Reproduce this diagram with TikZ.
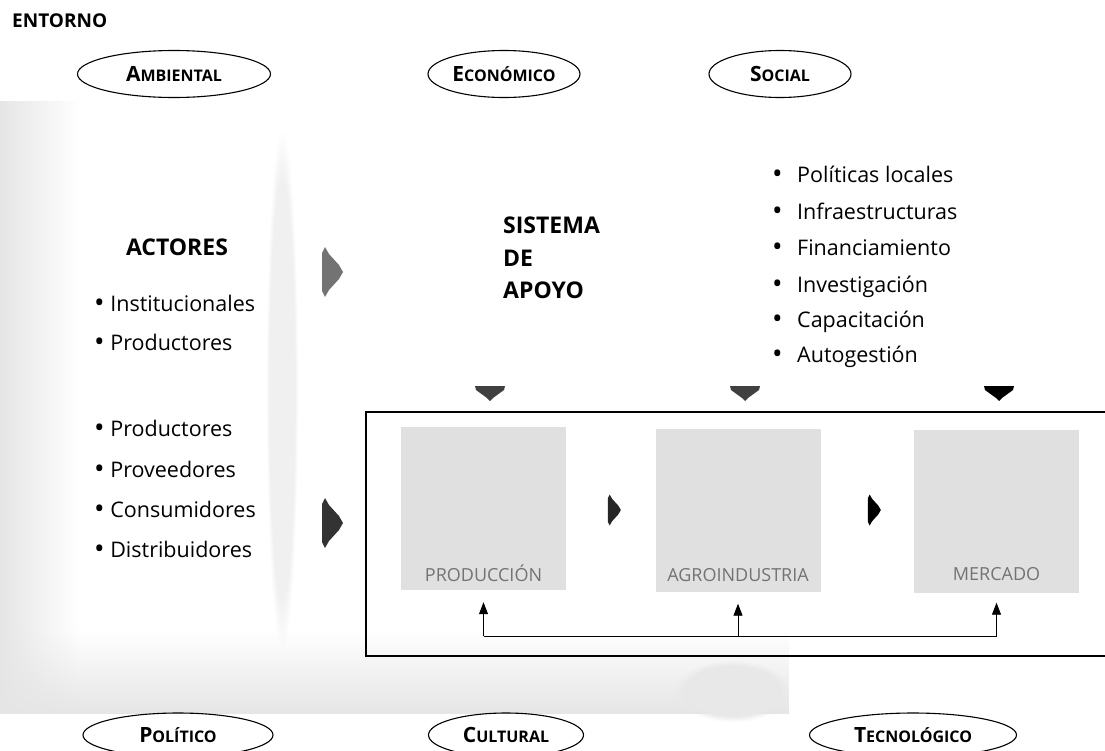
\documentclass[tikz,border=0pt]{standalone}
\usepackage{fontspec}
\setmainfont{Open Sans}
\usetikzlibrary{shapes.geometric,arrows.meta,calc,fadings}

% two-size capitals for the environment labels
\newcommand\envlabel[2]{{\fontsize{21}{21}\selectfont #1}{\fontsize{16}{16}\selectfont #2}}
% larger list bullet
\newcommand\bigdot{\raisebox{-1.5pt}{\fontsize{28}{28}\selectfont\textbullet}}

\tikzset{
  env/.style={draw, ellipse, line width=1.1pt, minimum width=#1, minimum height=47pt,
    inner sep=0pt, font=\bfseries},
  heading/.style={font=\bfseries\fontsize{23}{23}\selectfont, inner sep=0pt},
  item/.style={anchor=base west, inner sep=0pt, font=\fontsize{21.5}{21.5}\selectfont},
  stage/.style={fill=black!12, minimum width=165pt, minimum height=163pt, inner sep=0pt},
  stagelabel/.style={text=black!55, font=\fontsize{18}{18}\selectfont, inner sep=0pt},
  feedback/.style={line width=0.9pt},
  rarrow/.pic={\fill[#1] (-10,-19) -- (-7,-25) -- (-3,-18) -- (7,-7) -- (11,0) -- (7,7) -- (-3,18) -- (-7,25) -- (-10,19) -- cycle;},
  darrow/.pic={\fill[#1] (-15,-7) -- (15,-7) -- (14,-3) -- (3,5) -- (0,8) -- (-3,5) -- (-14,-3) -- cycle;},
}

\begin{document}
\begin{tikzpicture}[x=1pt, y=-1pt]
\useasboundingbox (0,0) rectangle (1105,750);

% faint wash over the left column and lower band
\fill[black!10, path fading=east] (0,100) rectangle (80,712);
\fill[black!10, path fading=north] (0,630) rectangle (790,714);
\fill[black!6, path fading=circle with fuzzy edge 20 percent] (266,130) rectangle (298,650);
\fill[black!9, path fading=circle with fuzzy edge 20 percent] (675,660) rectangle (790,722);

% title
\node[anchor=west, inner sep=0pt, font=\bfseries\fontsize{19}{19}\selectfont] (entorno) at (12,21) {ENTORNO};

% environment dimensions
\node[env=193pt] (amb) at (174,74) {\envlabel{A}{MBIENTAL}};
\node[env=152pt] (eco) at (504,74) {\envlabel{E}{CONÓMICO}};
\node[env=142pt] (soc) at (780,74) {\envlabel{S}{OCIAL}};
\node[env=190pt, minimum height=44pt] (pol) at (178,735) {\envlabel{P}{OLÍTICO}};
\node[env=155pt, minimum height=44pt] (cul) at (506,735) {\envlabel{C}{ULTURAL}};
\node[env=207pt, minimum height=44pt] (tec) at (913,735) {\envlabel{T}{ECNOLÓGICO}};

% actors
\node[heading] (actores) at (177,247) {ACTORES};
\node[item] (a1) at (94,311) {\bigdot\ Institucionales};
\node[item] (a2) at (94,350) {\bigdot\ Productores};
\node[item] (b1) at (94,436) {\bigdot\ Productores};
\node[item] (b2) at (94,477) {\bigdot\ Proveedores};
\node[item] (b3) at (94,517) {\bigdot\ Consumidores};
\node[item] (b4) at (94,557) {\bigdot\ Distribuidores};

% support system
\node[heading, anchor=base west] (sis1) at (503,233) {SISTEMA};
\node[heading, anchor=base west] (sis2) at (503,266) {DE};
\node[heading, anchor=base west] (sis3) at (503,298) {APOYO};

\node[item] (s1) at (772,182) {\makebox[25pt][l]{\bigdot}Políticas locales};
\node[item] (s2) at (772,219) {\makebox[25pt][l]{\bigdot}Infraestructuras};
\node[item] (s3) at (772,255) {\makebox[25pt][l]{\bigdot}Financiamiento};
\node[item] (s4) at (772,292) {\makebox[25pt][l]{\bigdot}Investigación};
\node[item] (s5) at (772,327) {\makebox[25pt][l]{\bigdot}Capacitación};
\node[item] (s6) at (772,362) {\makebox[25pt][l]{\bigdot}Autogestión};

% chain frame
\draw[line width=1.2pt] (1105,412) -- (366,412) -- (366,656) -- (1105,656);

% chain stages
\node[stage] (prod) at (483.5,508.5) {};
\node[stage] (agro) at (738,510) {};
\node[stage] (merc) at (996.5,511) {};
\node[stagelabel] (prodlbl) at ([yshift=17pt]prod.south) {PRODUCCIÓN};
\node[stagelabel] (agrolbl) at ([yshift=17pt]agro.south) {AGROINDUSTRIA};
\node[stagelabel] (merclbl) at ([yshift=19pt]merc.south) {MERCADO};

% block arrows
\pic at (332,272) {rarrow=black!55};
\pic at (332,523) {rarrow=black!80};
\pic[scale=0.62] at (614,510) {rarrow=black!85};
\pic[scale=0.62] at (874,510) {rarrow=black};
\pic at (490,393) {darrow=black!75};
\pic at (745,393) {darrow=black!75};
\pic at (999,393) {darrow=black};

% feedback loop
\coordinate (fb) at (0,636);
\draw[feedback] (prod.south |- fb) -- (merc.south |- fb);
\draw[feedback, -{Triangle[width=9pt,length=12pt]}] (prod.south |- fb) -- ([yshift=-12pt]prod.south);
\draw[feedback, -{Triangle[width=9pt,length=12pt]}] (agro.south |- fb) -- ([yshift=-12pt]agro.south);
\draw[feedback, -{Triangle[width=9pt,length=12pt]}] (merc.south |- fb) -- ([yshift=-10pt]merc.south);
\end{tikzpicture}
\end{document}
